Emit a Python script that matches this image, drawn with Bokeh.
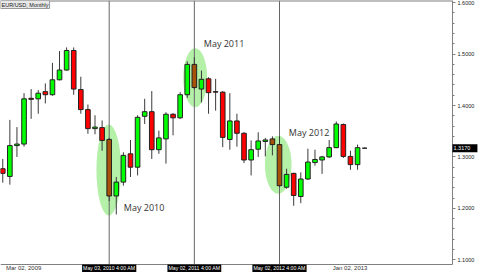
import numpy as np
import pandas as pd
from bokeh.plotting import figure
from bokeh.models import Range1d, FixedTicker, SingleIntervalTicker, NumeralTickFormatter, Label
from bokeh.core.properties import value
from bokeh.embed import file_html
from bokeh.resources import INLINE

# ---------------- data (EUR/USD monthly) ----------------
months = pd.date_range("2009-02-01", periods=52, freq="MS").strftime("%Y-%m").tolist()

opens = [1.277, 1.262, 1.322, 1.325, 1.414, 1.413, 1.427, 1.421, 1.450, 1.469,
         1.507, 1.431, 1.392, 1.355, 1.357, 1.334, 1.224, 1.251, 1.306, 1.280,
         1.379, 1.388, 1.314, 1.335, 1.383, 1.376, 1.421, 1.480, 1.432, 1.452,
         1.427, 1.426, 1.334, 1.370, 1.346, 1.294, 1.315, 1.330, 1.335, 1.324,
         1.241, 1.268, 1.223, 1.257, 1.289, 1.294, 1.300, 1.318, 1.363, 1.301,
         1.285, 1.317]
highs = [1.296, 1.372, 1.358, 1.424, 1.432, 1.430, 1.443, 1.483, 1.506, 1.513,
         1.513, 1.456, 1.402, 1.381, 1.371, 1.337, 1.261, 1.309, 1.333, 1.381,
         1.413, 1.428, 1.351, 1.387, 1.385, 1.426, 1.486, 1.494, 1.468, 1.455,
         1.452, 1.428, 1.424, 1.384, 1.348, 1.332, 1.348, 1.337, 1.340, 1.340,
         1.277, 1.269, 1.270, 1.316, 1.314, 1.302, 1.333, 1.369, 1.365, 1.312,
         1.324, 1.318]
lows = [1.250, 1.246, 1.300, 1.320, 1.374, 1.384, 1.404, 1.419, 1.449, 1.468,
        1.421, 1.384, 1.345, 1.344, 1.312, 1.214, 1.188, 1.244, 1.261, 1.264,
        1.364, 1.296, 1.306, 1.287, 1.342, 1.374, 1.415, 1.431, 1.406, 1.384,
        1.390, 1.319, 1.314, 1.320, 1.288, 1.264, 1.300, 1.301, 1.303, 1.241,
        1.238, 1.205, 1.210, 1.255, 1.283, 1.267, 1.298, 1.317, 1.298, 1.275,
        1.275, 1.316]
closes = [1.268, 1.322, 1.325, 1.413, 1.412, 1.424, 1.421, 1.450, 1.469, 1.507,
          1.432, 1.392, 1.355, 1.358, 1.332, 1.224, 1.251, 1.303, 1.280, 1.377,
          1.388, 1.314, 1.337, 1.383, 1.376, 1.421, 1.480, 1.435, 1.451, 1.425,
          1.426, 1.338, 1.370, 1.346, 1.294, 1.314, 1.331, 1.333, 1.324, 1.244,
          1.266, 1.225, 1.257, 1.290, 1.295, 1.300, 1.318, 1.364, 1.301, 1.285,
          1.318, 1.317]

# highlighted "May" months, their marker-line labels and callouts
may_months = ["2010-05", "2011-05", "2012-05"]
line_labels = ["May 03, 2010 4:00 AM", "May 02, 2011 4:00 AM", "May 02, 2012 4:00 AM"]
callouts = ["May 2010", "May 2011", "May 2012"]
shaded_months = ["2010-05", "2011-05", "2012-04", "2012-05"]   # bear candles under the green ovals

# bottom date-axis labels
date_labels = ["Mar 02, 2009", "Jan 02, 2013"]
date_label_months = ["2009-03", "2013-01"]

symbol_title = "EUR/USD, Monthly"

# ---------------- layout constants ----------------
PX_PER_MONTH = 7.096          # horizontal scale
PX_PER_UNIT = 514.0           # vertical scale (pixels per 1.0 of price)
CANVAS_W, CANVAS_H = 480, 272
X_START, X_PLOT_END = -0.318, 63.38
Y_PLOT_BOTTOM, Y_END = 1.0907, 1.6043
X_CANVAS_END = X_START + CANVAS_W / PX_PER_MONTH
Y_CANVAS_BOTTOM = Y_END - CANVAS_H / PX_PER_UNIT

BODY_W = 0.65
DATE_LABEL_SHIFT = 1.95
oval_dx = [-0.06, 0.12, -0.18]
oval_y = [1.2745, 1.454, 1.2848]
oval_w = [3.48, 3.38, 3.76]
oval_h = [0.177, 0.115, 0.113]
callout_dx = [2.06, 1.33, 1.31]
callout_y = [1.2025, 1.5206, 1.3484]

GREEN = "#00ff00"
RED = "#ff0000"
BROWN = "#a65208"
OVAL = "#b4f0a8"
FRAME = "#808080"
FONT = "Liberation Sans"

# ---------------- derived ----------------
xs = np.arange(len(months))
idx = {m: i for i, m in enumerate(months)}
o = np.array(opens); c = np.array(closes)
top = np.maximum(o, c)
bot = np.minimum(o, c)
colors = []
for m, oo, cc in zip(months, opens, closes):
    if cc >= oo:
        colors.append(GREEN)
    elif m in shaded_months:
        colors.append(BROWN)
    else:
        colors.append(RED)

may_x = [idx[m] for m in may_months]

p = figure(width=CANVAS_W, height=CANVAS_H, output_backend="svg", toolbar_location=None,
           x_range=Range1d(X_START, X_CANVAS_END), y_range=Range1d(Y_CANVAS_BOTTOM, Y_END),
           y_axis_location="right",
           min_border_left=0, min_border_top=0, min_border_right=0, min_border_bottom=0)
p.background_fill_color = "white"
p.border_fill_color = "white"
p.outline_line_color = None
p.grid.visible = False

# green ovals
p.ellipse(x=[mx + d for mx, d in zip(may_x, oval_dx)], y=oval_y, width=oval_w, height=oval_h,
          fill_color=OVAL, line_color=None)
# vertical marker lines
p.segment(x0=may_x, y0=[Y_PLOT_BOTTOM] * len(may_x), x1=may_x, y1=[Y_END] * len(may_x),
          line_color="#666666", line_width=1)
# top frame line
p.segment(x0=[X_START], y0=[Y_END], x1=[X_PLOT_END], y1=[Y_END], line_color=FRAME, line_width=2)
# wicks + bodies
p.segment(x0=xs, y0=lows, x1=xs, y1=highs, line_color="#3a3a3a", line_width=1)
p.vbar(x=xs, top=top, bottom=bot, width=BODY_W, fill_color=colors, line_color="#222222", line_width=1)

# callout texts
p.text(x=[mx + d for mx, d in zip(may_x, callout_dx)], y=callout_y, text=callouts,
       text_font=value("Open Sans"), text_font_size="9px", text_color="#333333",
       text_align="left", text_baseline="middle")

# axes (drawn at fixed positions inside the canvas)
ya = p.yaxis[0]
ya.fixed_location = X_PLOT_END
ya.bounds = (Y_PLOT_BOTTOM, Y_END)
ya.ticker = SingleIntervalTicker(interval=0.1, num_minor_ticks=5)
ya.formatter = NumeralTickFormatter(format="0.0000")
ya.major_label_text_font = FONT
ya.major_label_text_font_size = "5.5px"
ya.major_label_text_color = "#222222"
ya.axis_line_color = FRAME
ya.major_tick_line_color = FRAME
ya.minor_tick_line_color = FRAME
ya.major_tick_out = 3
ya.major_tick_in = 0
ya.minor_tick_out = 2
ya.minor_tick_in = 0
ya.major_label_standoff = 2

xa = p.xaxis[0]
xa.fixed_location = Y_PLOT_BOTTOM
xa.bounds = (X_START, X_PLOT_END)
tick_pos = [idx[m] + DATE_LABEL_SHIFT for m in date_label_months]
xa.ticker = FixedTicker(ticks=tick_pos)
xa.major_label_overrides = {t: s for t, s in zip(tick_pos, date_labels)}
xa.major_label_text_font = FONT
xa.major_label_text_font_size = "6px"
xa.major_label_text_color = "#333333"
xa.axis_line_color = FRAME
xa.major_tick_out = 0
xa.major_tick_in = 0
xa.minor_tick_line_color = None
xa.major_label_standoff = 1

# black date boxes of the marker lines
for mx, t in zip(may_x, line_labels):
    p.add_layout(Label(x=mx, y=Y_PLOT_BOTTOM, y_offset=-4, text=t, text_align="center",
                       text_baseline="middle", text_font=FONT, text_font_size="5.2px",
                       text_color="white", background_fill_color="black", padding=1))

# current price box
p.add_layout(Label(x=X_PLOT_END, y=closes[-1], text="    " + f"{closes[-1]:.4f}", text_align="left",
                   text_baseline="middle", text_font=FONT, text_font_size="5.5px",
                   text_color="white", background_fill_color="black", padding=1))

# symbol title box
p.add_layout(Label(x=X_START, y=Y_END, text=symbol_title, text_align="left", text_baseline="top",
                   text_font=FONT, text_font_size="5.5px", text_color="#222222",
                   background_fill_color="#e8e8e8", border_line_color="#9a9a9a", padding=1))

open("out.html", "w").write(file_html(p, INLINE))
